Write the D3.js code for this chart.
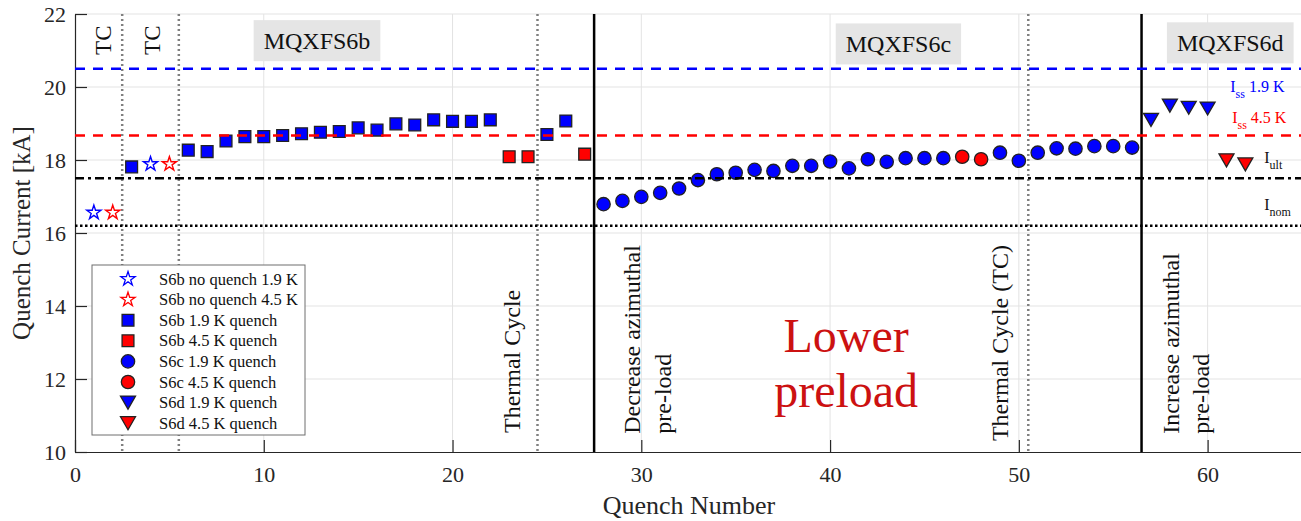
<!DOCTYPE html>
<html>
<head>
<meta charset="utf-8">
<script src="https://cdn.jsdelivr.net/npm/d3@7"></script>
<style>
  body { margin: 0; background: #fff; }
  svg text { font-family: "Liberation Serif", "Times New Roman", serif; }
</style>
</head>
<body>
<div id="chart"></div>
<script>
// quench number / current [kA] per series
var s6bNoQ19Q = [1, 4];
var s6bNoQ19V = [16.56, 17.89];
var s6bNoQ45Q = [2, 5];
var s6bNoQ45V = [16.56, 17.89];
var s6b19Q = [3, 6, 7, 8, 9, 10, 11, 12, 13, 14, 15, 16, 17, 18, 19, 20, 21, 22, 25, 26];
var s6b19V = [17.81, 18.27, 18.23, 18.52, 18.64, 18.64, 18.67, 18.72, 18.76, 18.78, 18.88, 18.82, 18.99, 18.96, 19.10, 19.06, 19.06, 19.10, 18.70, 19.07];
var s6b45Q = [23, 24, 27];
var s6b45V = [18.09, 18.09, 18.16];
var s6c19Q = [28, 29, 30, 31, 32, 33, 34, 35, 36, 37, 38, 39, 40, 41, 42, 43, 44, 45, 46, 49, 50, 51, 52, 53, 54, 55, 56];
var s6c19V = [16.79, 16.88, 16.99, 17.10, 17.22, 17.45, 17.61, 17.65, 17.73, 17.70, 17.84, 17.84, 17.96, 17.77, 18.02, 17.95, 18.05, 18.05, 18.05, 18.20, 17.98, 18.20, 18.32, 18.31, 18.38, 18.38, 18.34];
var s6c45Q = [47, 48];
var s6c45V = [18.09, 18.02];
var s6d19Q = [57, 58, 59, 60];
var s6d19V = [19.10, 19.49, 19.43, 19.41];
var s6d45Q = [61, 62];
var s6d45V = [17.99, 17.88];

// reference currents
var issLow = 20.5;   // Iss 1.9 K
var issHigh = 18.67; // Iss 4.5 K
var iUlt = 17.5;
var iNom = 16.2;

var tcLines = [2.5, 5.5, 24.5, 50.5];
var magnetLines = [27.5, 56.5];

var xTicks = [0, 10, 20, 30, 40, 50, 60];
var yTicks = [10, 12, 14, 16, 18, 20, 22];

var width = 1301, height = 521;
var svg = d3.select("#chart").append("svg")
  .attr("width", width)
  .attr("height", height);

var x = d3.scaleLinear().domain([0, 65]).range([75, 1302]);
var y = d3.scaleLinear().domain([10, 22]).range([452, 14]);

// grid
var grid = svg.append("g").attr("class", "grid");
grid.selectAll(".gx").data(xTicks.slice(1)).enter().append("line")
  .attr("x1", function(d){ return x(d); }).attr("x2", function(d){ return x(d); })
  .attr("y1", y(10)).attr("y2", y(22))
  .attr("stroke", "#e3e3e3").attr("stroke-width", 1);
grid.selectAll(".gy").data(yTicks.slice(1)).enter().append("line")
  .attr("x1", x(0)).attr("x2", x(65))
  .attr("y1", function(d){ return y(d); }).attr("y2", function(d){ return y(d); })
  .attr("stroke", "#e3e3e3").attr("stroke-width", 1);

// axes
var xAxis = svg.append("g")
  .attr("class", "xAxis")
  .attr("transform", "translate(0," + y(10) + ")")
  .call(d3.axisBottom(x).tickValues(xTicks).tickSizeInner(-12).tickSizeOuter(0).tickPadding(14));
var yAxis = svg.append("g")
  .attr("class", "yAxis")
  .attr("transform", "translate(" + x(0) + ",0)")
  .call(d3.axisLeft(y).tickValues(yTicks).tickSizeInner(-12).tickSizeOuter(0).tickPadding(9));
svg.selectAll(".xAxis text, .yAxis text")
  .attr("font-size", 22).attr("fill", "#262626")
  .style("font-family", "'Liberation Serif', serif");
svg.selectAll(".xAxis path, .yAxis path, .xAxis line, .yAxis line")
  .attr("stroke", "#262626").attr("stroke-width", 1.2);

svg.append("text")
  .attr("x", 689).attr("y", 514)
  .attr("text-anchor", "middle")
  .attr("font-size", 26).attr("fill", "#262626")
  .text("Quench Number");
svg.append("text")
  .attr("transform", "translate(30,233) rotate(-90)")
  .attr("text-anchor", "middle")
  .attr("font-size", 25).attr("fill", "#262626")
  .text("Quench Current [kA]");

// vertical separators
svg.selectAll(".tc").data(tcLines).enter().append("line")
  .attr("x1", function(d){ return x(d); }).attr("x2", function(d){ return x(d); })
  .attr("y1", y(22)).attr("y2", y(10))
  .attr("stroke", "#808080").attr("stroke-width", 2.5)
  .attr("stroke-dasharray", "2,3");
svg.selectAll(".mag").data(magnetLines).enter().append("line")
  .attr("x1", function(d){ return x(d); }).attr("x2", function(d){ return x(d); })
  .attr("y1", y(22)).attr("y2", y(10))
  .attr("stroke", "#000").attr("stroke-width", 2.5);

// title boxes
function titleBox(label, qx, vy) {
  var g = svg.append("g").attr("transform", "translate(" + x(qx) + "," + y(vy) + ")");
  var r = g.append("rect").attr("fill", "#e5e5e5");
  var t = g.append("text")
    .attr("text-anchor", "middle")
    .attr("dominant-baseline", "central")
    .attr("font-size", 24).attr("fill", "#111")
    .text(label);
  var w = t.node().getComputedTextLength();
  r.attr("x", -w / 2 - 10).attr("y", -20.5).attr("width", w + 20).attr("height", 41);
}
titleBox("MQXFS6b", 12.82, 21.27);
titleBox("MQXFS6c", 43.62, 21.18);
titleBox("MQXFS6d", 61.2, 21.21);

// rotated annotations
function vText(lines, qx, vy, size, gap) {
  lines.forEach(function(s, i) {
    svg.append("text")
      .attr("transform", "translate(" + (x(qx) + i * gap) + "," + y(vy) + ") rotate(-90)")
      .attr("dominant-baseline", "central")
      .attr("font-size", size).attr("fill", "#111")
      .text(s);
  });
}
vText(["TC"], 1.5, 20.88, 23, 0);
vText(["TC"], 4.1, 20.88, 23, 0);
vText(["Thermal Cycle"], 23.15, 10.52, 24, 0);
vText(["Decrease azimuthal", "pre-load"], 29.5, 10.5, 24, 31);
vText(["Thermal Cycle (TC)"], 49.0, 10.3, 24, 0);
vText(["Increase azimuthal", "pre-load"], 58.05, 10.5, 24, 30);

svg.append("text")
  .attr("x", x(40.85)).attr("y", y(12.75))
  .attr("text-anchor", "middle")
  .attr("font-size", 48).attr("fill", "#cc1111")
  .text("Lower");
svg.append("text")
  .attr("x", x(40.85)).attr("y", y(11.22))
  .attr("text-anchor", "middle")
  .attr("font-size", 48).attr("fill", "#cc1111")
  .text("preload");

// right side labels
function subLabel(main, sub, rest, qx, vy, color) {
  var t = svg.append("text")
    .attr("x", x(qx)).attr("y", y(vy))
    .attr("font-size", 16).attr("fill", color);
  t.append("tspan").text(main);
  t.append("tspan").attr("font-size", 12).attr("dy", 6).text(sub);
  if (rest) t.append("tspan").attr("dy", -6).text(rest);
}
subLabel("I", "ss", "\u00a01.9 K", 61.2, 19.86, "#0000ff");
subLabel("I", "ss", "\u00a04.5 K", 61.3, 19.01, "#ff0000");
subLabel("I", "ult", null, 63.0, 17.92, "#111");
subLabel("I", "nom", null, 63.0, 16.63, "#111");

// markers
var starPath = d3.symbol().type(d3.symbolStar).size(62)();
var squarePath = d3.symbol().type(d3.symbolSquare).size(140)();
var circlePath = d3.symbol().type(d3.symbolCircle).size(140)();
var triPath = "M-7.5,-6.5L7.5,-6.5L0,6.5Z";

function series(qs, vs, path, fill, stroke, sw) {
  svg.append("g").selectAll("path")
    .data(qs.map(function(q, i){ return {q: q, v: vs[i]}; }))
    .enter().append("path")
    .attr("transform", function(d){ return "translate(" + x(d.q) + "," + y(d.v) + ")"; })
    .attr("d", path)
    .attr("fill", fill)
    .attr("stroke", stroke)
    .attr("stroke-width", sw);
}
series(s6bNoQ19Q, s6bNoQ19V, starPath, "none", "#0000ff", 1.4);
series(s6bNoQ45Q, s6bNoQ45V, starPath, "none", "#ff0000", 1.4);
series(s6b19Q, s6b19V, squarePath, "#0000ff", "#222", 1.3);
series(s6b45Q, s6b45V, squarePath, "#ff0000", "#222", 1.3);
series(s6c19Q, s6c19V, circlePath, "#0000ff", "#222", 1.3);
series(s6c45Q, s6c45V, circlePath, "#ff0000", "#222", 1.3);
series(s6d19Q, s6d19V, triPath, "#0000ff", "#222", 1.3);
series(s6d45Q, s6d45V, triPath, "#ff0000", "#222", 1.3);

// horizontal reference lines
function hLine(v, color, dash) {
  svg.append("line")
    .attr("x1", x(0)).attr("x2", x(65))
    .attr("y1", y(v)).attr("y2", y(v))
    .attr("stroke", color).attr("stroke-width", 2.5)
    .attr("stroke-dasharray", dash);
}
hLine(issLow, "#0000ff", "10,8");
hLine(issHigh, "#ff0000", "10,8");
hLine(iUlt, "#000", "9,4,3,4");
hLine(iNom, "#000", "2.5,2.5");

// legend
var legendItems = [
  {label: "S6b no quench 1.9 K", path: starPath, fill: "none", stroke: "#0000ff"},
  {label: "S6b no quench 4.5 K", path: starPath, fill: "none", stroke: "#ff0000"},
  {label: "S6b 1.9 K quench", path: squarePath, fill: "#0000ff", stroke: "#222"},
  {label: "S6b 4.5 K quench", path: squarePath, fill: "#ff0000", stroke: "#222"},
  {label: "S6c 1.9 K quench", path: circlePath, fill: "#0000ff", stroke: "#222"},
  {label: "S6c 4.5 K quench", path: circlePath, fill: "#ff0000", stroke: "#222"},
  {label: "S6d 1.9 K quench", path: triPath, fill: "#0000ff", stroke: "#222"},
  {label: "S6d 4.5 K quench", path: triPath, fill: "#ff0000", stroke: "#222"}
];
var legend = svg.append("g").attr("transform", "translate(92,265)");
legend.append("rect")
  .attr("width", 213).attr("height", 170)
  .attr("fill", "#fff").attr("stroke", "#6e6e6e").attr("stroke-width", 1);
var rows = legend.selectAll(".row").data(legendItems).enter().append("g")
  .attr("transform", function(d, i){ return "translate(0," + (14 + i * 20.6) + ")"; });
rows.append("path")
  .attr("transform", "translate(36,0)")
  .attr("d", function(d){ return d.path; })
  .attr("fill", function(d){ return d.fill; })
  .attr("stroke", function(d){ return d.stroke; })
  .attr("stroke-width", 1.3);
rows.append("text")
  .attr("x", 67).attr("dominant-baseline", "central")
  .attr("font-size", 16.5).attr("fill", "#111")
  .text(function(d){ return d.label; });
</script>
</body>
</html>
